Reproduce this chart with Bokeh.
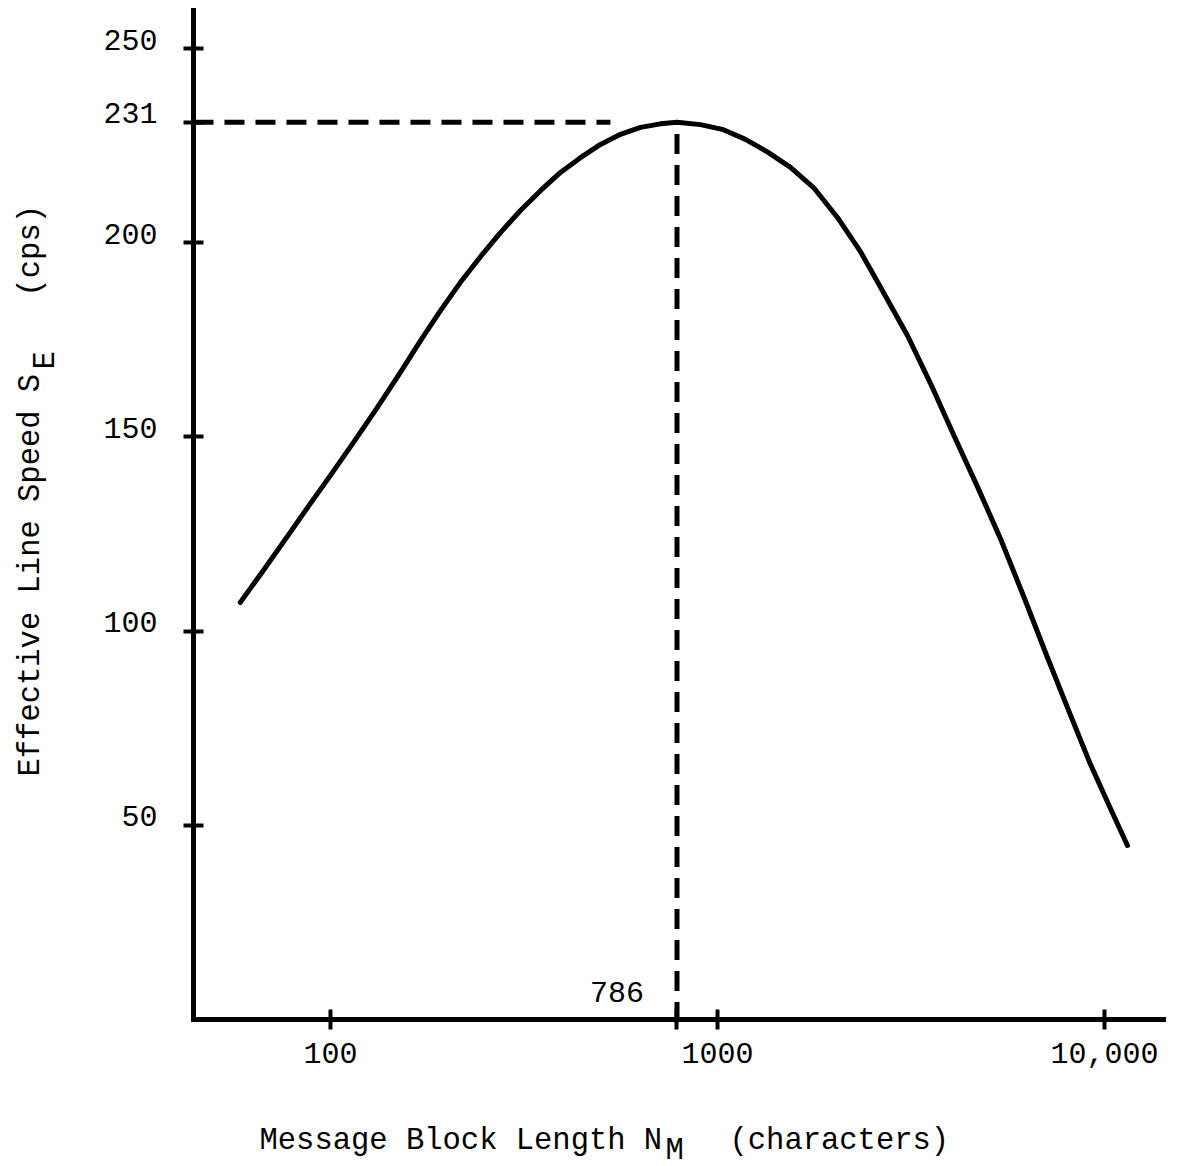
import math
from bokeh.plotting import figure
from bokeh.models import Range1d, FixedTicker, Label
from bokeh.core.properties import value
from bokeh.embed import file_html
from bokeh.resources import INLINE

# ---- data ----
block_length = [58.5, 66.7, 77.4, 88.8, 100, 116.0, 132.2, 151.6, 170.9, 192.4,
                216.7, 244.1, 275.0, 309.7, 348.8, 392.9, 442.6, 498.6, 561.6, 632.4,
                712.3, 786, 903.8, 1036, 1181, 1346, 1544, 1771, 2042, 2342,
                2685, 3097, 3551, 4072, 4696, 5386, 6214, 7123, 8121, 9201,
                10363, 11466]
line_speed = [107.4, 115.3, 124.4, 132.9, 140.1, 149.3, 157.6, 166.6, 174.8, 182.5,
              189.8, 196.4, 202.6, 208.3, 213.4, 218.1, 221.9, 225.3, 227.9, 229.7,
              230.6, 231.0, 230.4, 229.1, 226.6, 223.4, 219.4, 214.2, 206.5, 197.7,
              187.2, 176.1, 163.8, 150.6, 137.2, 123.8, 108.4, 93.2, 79.0, 65.7,
              54.3, 44.8]

peak_length = 786
peak_speed = 231
hline_end = 529          # where the horizontal dashed guide stops
vline_top = 228          # where the vertical dashed guide starts

y_ticks = [50, 100, 150, 200, 231, 250]
y_tick_labels = ["50", "100", "150", "200", "231", "250"]
x_ticks = [100, 786, 1000, 10000]
x_tick_labels = {100: "100", 786: "", 1000: "1000", 10000: "10,000"}

x_title = "Message Block Length N"
x_title_sub = "M"
x_title_end = "(characters)"
y_title = "Effective Line Speed S"
y_title_sub = "E"
y_title_end = "(cps)"

FONT = "Liberation Mono"
TICK_SIZE = "30px"
TITLE_SIZE = "30.5px"

# axis extents (data units)
x_axis_start, x_axis_end = 44.26, 14209
y_axis_start, y_axis_end = 0, 259.8
# visible window (data units) - frame covers the whole canvas
x_view = (14.04, 15909)
y_view = (-37.85, 262.36)

W, H = 1182, 1166
p = figure(width=W, height=H, x_axis_type="log",
           x_range=Range1d(*x_view), y_range=Range1d(*y_view),
           output_backend="svg", toolbar_location=None,
           min_border_left=0, min_border_right=0,
           min_border_top=0, min_border_bottom=0)
p.outline_line_color = None
p.xgrid.visible = False
p.ygrid.visible = False
p.background_fill_color = "white"
p.border_fill_color = "white"

xa = p.xaxis[0]
ya = p.yaxis[0]
xa.fixed_location = y_axis_start
xa.bounds = (x_axis_start, x_axis_end)
ya.fixed_location = x_axis_start
ya.bounds = (y_axis_start, y_axis_end)

for ax in (xa, ya):
    ax.axis_line_width = 5
    ax.axis_line_color = "black"
    ax.axis_line_cap = "square"
    ax.major_tick_line_width = 4
    ax.major_tick_line_color = "black"
    ax.major_tick_in = 10
    ax.major_tick_out = 10
    ax.minor_tick_line_color = None
    ax.major_label_text_font = FONT
    ax.major_label_text_font_size = TICK_SIZE
    ax.major_label_text_color = "black"

xa.ticker = FixedTicker(ticks=x_ticks, minor_ticks=[])
xa.major_label_overrides = x_tick_labels
xa.major_label_standoff = 14
ya.ticker = FixedTicker(ticks=y_ticks, minor_ticks=[])
ya.major_label_overrides = {t: "" for t in y_ticks}

# y tick labels typed just above each tick (typewriter style)
p.text(x=[x_axis_start] * len(y_ticks), y=y_ticks, text=y_tick_labels,
       x_offset=-36, y_offset=-9, text_align="right", text_baseline="middle",
       text_font=value(FONT), text_font_size=TICK_SIZE, text_color="black")

# dashed guides
p.line([x_axis_start, hline_end], [peak_speed, peak_speed], line_color="black",
       line_width=5, line_dash="20 11")
p.line([peak_length, peak_length], [vline_top, y_axis_start], line_color="black",
       line_width=5, line_dash="20 11")

# curve
p.line(block_length, line_speed, line_color="black", line_width=5,
       line_cap="round", line_join="round")

p.add_layout(Label(x=peak_length, y=y_axis_start, x_offset=-33, y_offset=27,
                   text=str(peak_length), text_font=FONT, text_font_size=TICK_SIZE,
                   text_align="right", text_baseline="middle", text_color="black"))

# axis titles (typewriter-style subscripts); screen units from canvas bottom-left
def lab(x, y, text, angle=0.0):
    p.add_layout(Label(x=x, y=y, x_units="screen", y_units="screen", text=text,
                       angle=angle, text_font=FONT, text_font_size=TITLE_SIZE,
                       text_align="left", text_baseline="middle",
                       text_color="black"))

lab(259, 26, x_title)
lab(665, 16, x_title_sub)
lab(729, 26, x_title_end)

lab(30, 390, y_title, math.pi / 2)
lab(45, 797, y_title_sub, math.pi / 2)
lab(30, 870, y_title_end, math.pi / 2)

open("out.html", "w").write(file_html(p, INLINE))
